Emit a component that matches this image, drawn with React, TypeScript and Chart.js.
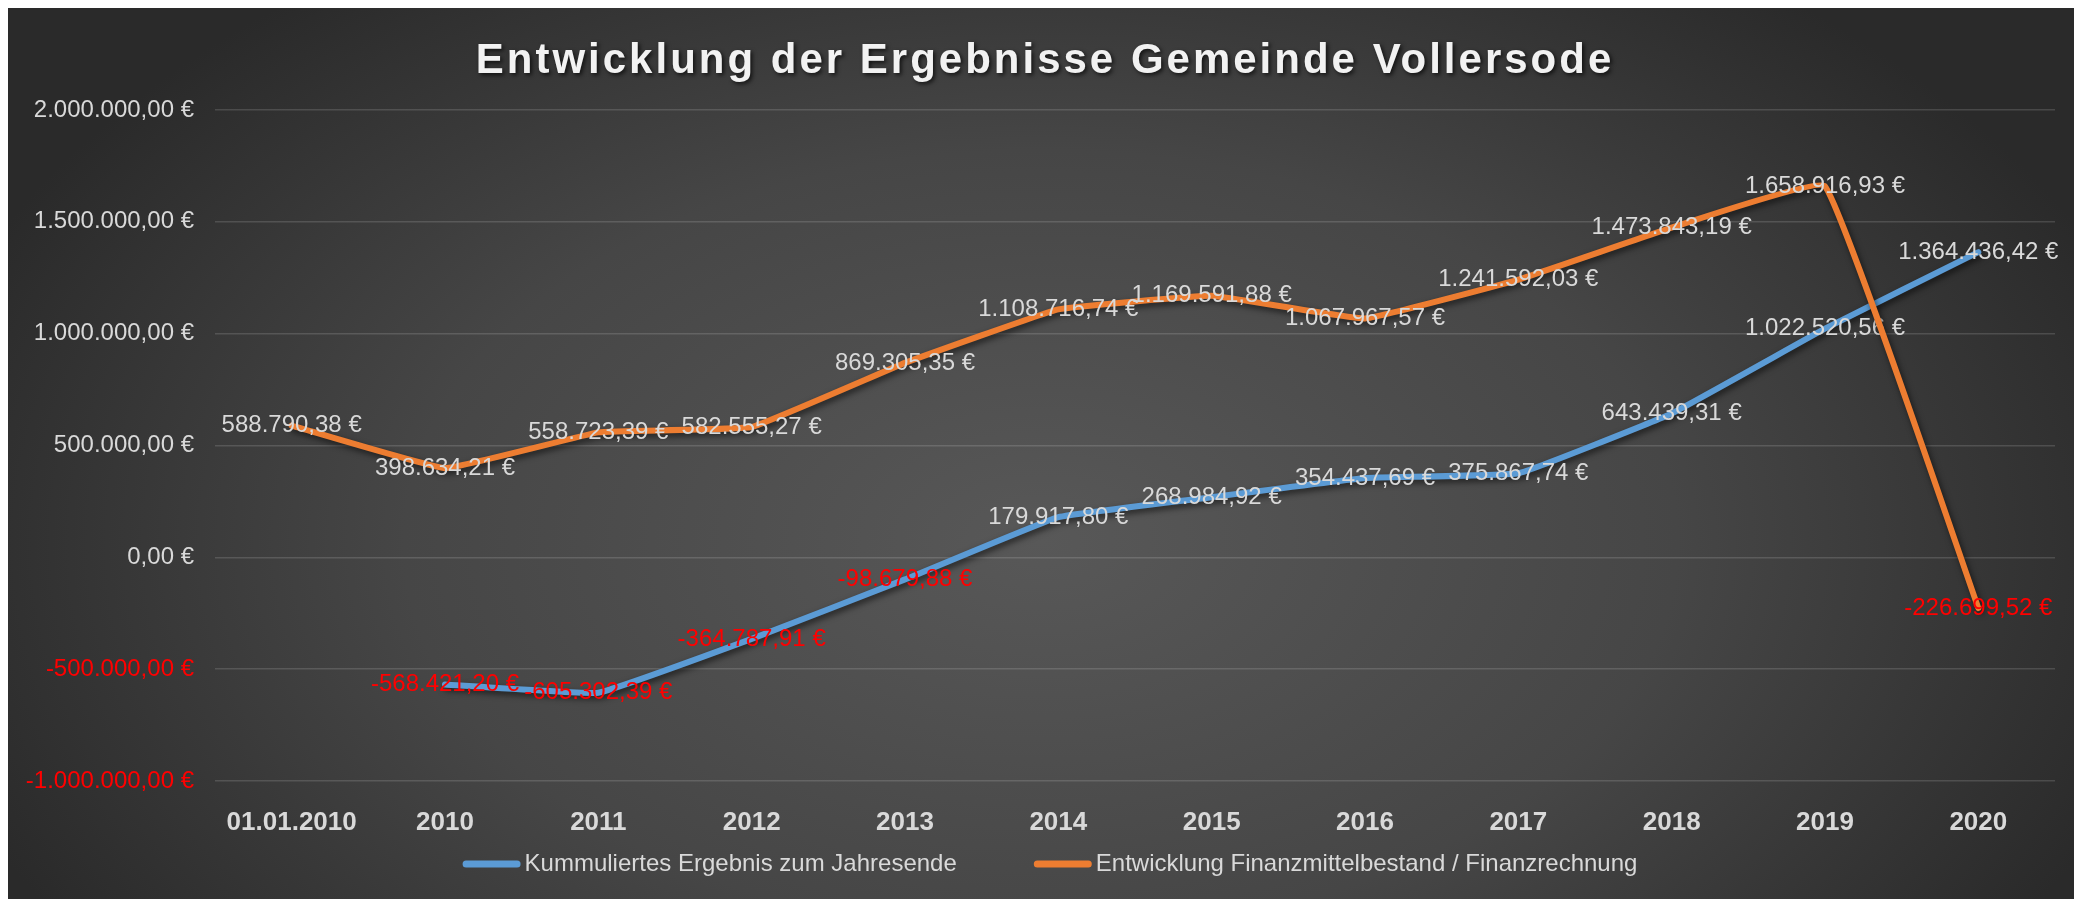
import React, { useEffect, useRef } from "react";
import { Chart, registerables } from "chart.js";

Chart.register(...registerables);

const titleText = "Entwicklung der Ergebnisse Gemeinde Vollersode";
const categories = ["01.01.2010", "2010", "2011", "2012", "2013", "2014", "2015", "2016", "2017", "2018", "2019", "2020"];
const seriesLabels = ["Kummuliertes Ergebnis zum Jahresende", "Entwicklung Finanzmittelbestand / Finanzrechnung"];
const kummuliertesErgebnis = [null, -568421.2, -605302.39, -364787.91, -98679.88, 179917.8, 268984.92, 354437.69, 375867.74, 643439.31, 1022520.56, 1364436.42];
const finanzmittelbestand = [588790.38, 398634.21, 558723.39, 582555.27, 869305.35, 1108716.74, 1169591.88, 1067967.57, 1241592.03, 1473843.19, 1658916.93, -226699.52];
const yMin = -1000000;
const yMax = 2000000;
const yStep = 500000;

const FONT = "'Liberation Sans', Arial, sans-serif";
const W = 2066;
const H = 891;

function fmtEuro(v: number): string {
  const neg = v < 0;
  const [i, d] = Math.abs(v).toFixed(2).split(".");
  const intDots = i.replace(/\B(?=(\d{3})+(?!\d))/g, ".");
  return (neg ? "-" : "") + intDots + "," + d + " €";
}

const decorPlugin = {
  id: "decor",
  beforeDraw(chart: any) {
    const ctx = chart.ctx;
    const w = chart.width, h = chart.height;
    ctx.save();
    ctx.translate(w * 0.5, h * 0.6);
    ctx.scale(w * 0.56, h * 0.8);
    const g = ctx.createRadialGradient(0, 0, 0, 0, 0, 1);
    g.addColorStop(0, "#585858");
    g.addColorStop(0.55, "#464646");
    g.addColorStop(1, "#2a2a2a");
    ctx.fillStyle = g;
    ctx.fillRect(-3, -3, 6, 6);
    ctx.restore();
  },
  beforeDatasetDraw(chart: any) {
    const ctx = chart.ctx;
    ctx.save();
    ctx.shadowColor = "rgba(0,0,0,0.6)";
    ctx.shadowBlur = 6;
    ctx.shadowOffsetX = 2;
    ctx.shadowOffsetY = 3;
  },
  afterDatasetDraw(chart: any, args: any) {
    const ctx = chart.ctx;
    ctx.restore();
    const ds = chart.data.datasets[args.index];
    ctx.save();
    ctx.font = `24px ${FONT}`;
    ctx.textAlign = "center";
    ctx.textBaseline = "middle";
    args.meta.data.forEach((pt: any, i: number) => {
      const v = ds.data[i];
      if (v === null || v === undefined) return;
      ctx.fillStyle = v < 0 ? "#ff0000" : "#d9d9d9";
      ctx.fillText(fmtEuro(v), pt.x, pt.y);
    });
    ctx.restore();
  },
  afterDraw(chart: any) {
    const ctx = chart.ctx;
    // title
    ctx.save();
    ctx.font = `bold 42px ${FONT}`;
    (ctx as any).letterSpacing = "3px";
    ctx.textAlign = "center";
    ctx.textBaseline = "middle";
    ctx.shadowColor = "rgba(0,0,0,0.7)";
    ctx.shadowBlur = 4;
    ctx.shadowOffsetX = 2;
    ctx.shadowOffsetY = 2;
    ctx.fillStyle = "#f2f2f2";
    ctx.fillText(titleText, W / 2 + 4, 53);
    ctx.restore();
    // legend
    ctx.save();
    ctx.font = `24px ${FONT}`;
    ctx.textBaseline = "middle";
    ctx.textAlign = "left";
    const markerW = 58, markerH = 7, gap = 4, itemGap = 77;
    const items = chart.data.datasets.map((d: any) => ({ label: d.label, color: d.borderColor, tw: ctx.measureText(d.label).width }));
    const total = items.reduce((s: number, it: any) => s + markerW + gap + it.tw, 0) + itemGap * (items.length - 1);
    let x = W / 2 + 9 - total / 2;
    const y = 856;
    items.forEach((it: any) => {
      ctx.fillStyle = it.color;
      ctx.beginPath();
      (ctx as any).roundRect(x, y - markerH / 2, markerW, markerH, markerH / 2);
      ctx.fill();
      ctx.fillStyle = "#d9d9d9";
      ctx.fillText(it.label, x + markerW + gap, y);
      x += markerW + gap + it.tw + itemGap;
    });
    ctx.restore();
  },
};

export default function App() {
  const ref = useRef<HTMLCanvasElement>(null);
  useEffect(() => {
    if (!ref.current) return;
    const chart = new Chart(ref.current, {
      type: "line",
      data: {
        labels: categories,
        datasets: [
          {
            label: seriesLabels[0],
            data: kummuliertesErgebnis,
            borderColor: "#5b9bd5",
            backgroundColor: "#5b9bd5",
            borderWidth: 6,
            pointRadius: 0,
            tension: 0.08,
            order: 1,
            borderCapStyle: "round",
            borderJoinStyle: "round",
          },
          {
            label: seriesLabels[1],
            data: finanzmittelbestand,
            borderColor: "#ed7d31",
            backgroundColor: "#ed7d31",
            borderWidth: 6,
            pointRadius: 0,
            tension: 0.08,
            order: 0,
            borderCapStyle: "round",
            borderJoinStyle: "round",
          },
        ],
      },
      options: {
        responsive: false,
        animation: false,
        devicePixelRatio: 1,
        layout: { padding: { top: 102, right: 19, left: 0, bottom: 0 } },
        plugins: {
          legend: { display: false },
          title: { display: false },
          tooltip: { enabled: false },
        },
        scales: {
          x: {
            type: "category",
            offset: true,
            grid: { display: false },
            border: { display: false },
            ticks: {
              color: "#d9d9d9",
              font: { family: FONT, size: 26, weight: "bold" },
              padding: 18,
              maxRotation: 0,
              autoSkip: false,
            },
            afterFit: (s: any) => {
              s.height = 118;
            },
          },
          y: {
            min: yMin,
            max: yMax,
            ticks: {
              stepSize: yStep,
              callback: (v: any) => fmtEuro(Number(v)),
              color: (c: any) => (c.tick && c.tick.value < 0 ? "#ff0000" : "#d9d9d9"),
              font: { family: FONT, size: 24 },
              padding: 21,
            },
            grid: { color: "rgba(255,255,255,0.14)", lineWidth: 1.5, drawTicks: false },
            border: { display: false },
            afterFit: (s: any) => {
              s.width = 207;
            },
          },
        },
      } as any,
      plugins: [decorPlugin],
    });
    return () => chart.destroy();
  }, []);
  return <canvas ref={ref} width={W} height={H} style={{ display: "block", width: W, height: H }} />;
}
